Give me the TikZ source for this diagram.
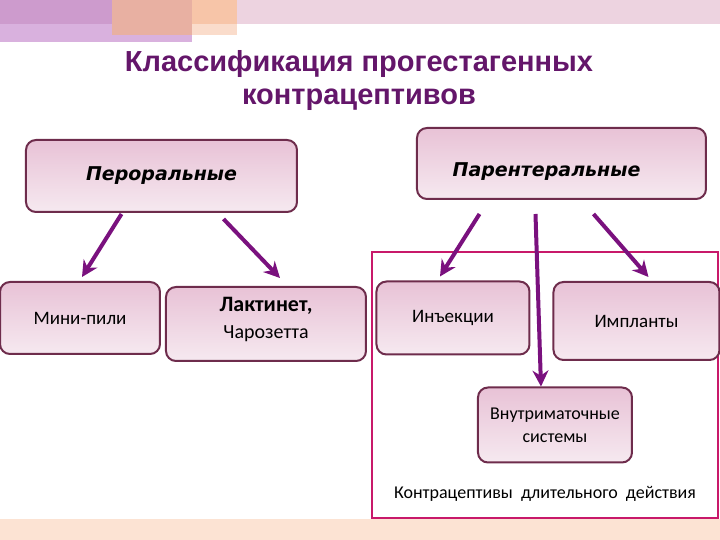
\documentclass[tikz,border=0pt]{standalone}
\usepackage{fontspec}
\setmainfont{Liberation Sans}
\newfontfamily\catfont{DejaVu Sans}
\newfontfamily\boxfont{Carlito}
\usepackage{tikz}
\usetikzlibrary{positioning,arrows.meta,calc}
\definecolor{titlecol}{HTML}{64166A}
\definecolor{boxline}{HTML}{6E2C4C}
\definecolor{boxtop}{HTML}{E8C2D6}
\definecolor{boxbot}{HTML}{F6E9F0}
\definecolor{arrcol}{HTML}{7A117E}
\definecolor{framecol}{HTML}{C8196A}
\definecolor{bandpink}{HTML}{EDD3E0}
\definecolor{bandpurple}{HTML}{CD9BCD}
\definecolor{bandlilac}{HTML}{D9B1DE}
\definecolor{bandsalmon}{HTML}{E8B0A2}
\definecolor{bandorange}{HTML}{F7C5A8}
\definecolor{bandpeach}{HTML}{FCE3D3}

\begin{document}
\begin{tikzpicture}[
  x=0.5pt, y=-0.5pt,
  catbox/.style={draw=boxline, line width=1pt, rounded corners=5pt,
    top color=boxtop, bottom color=boxbot, inner sep=0pt,
    font=\catfont\bfseries\itshape\fontsize{9.5}{11}\selectfont},
  cattext/.style={font=\catfont\bfseries\itshape\fontsize{9.5}{11}\selectfont},
  subbox/.style={draw=boxline, line width=1pt, rounded corners=5pt,
    top color=boxtop, bottom color=boxbot, inner sep=0pt, align=center,
    font=\boxfont\fontsize{9.5}{13}\selectfont},
  arr/.style={-{Stealth[length=8pt, width=8pt]}, line width=2pt, arrcol}
]
\useasboundingbox (0,0) rectangle (720,540);

% Decorative bands
\fill[bandpink] (0,0) rectangle (720,24);
\fill[bandlilac] (0,24) rectangle (192,42);
\fill[bandpurple] (0,0) rectangle (112,24);
\fill[bandsalmon] (112,0) rectangle (192,35);
\fill[bandorange] (192,0) rectangle (237,24);
\fill[bandorange!60] (192,24) rectangle (237,35);
\fill[bandpeach] (0,519) rectangle (720,540);

% Title
\node[font=\bfseries\fontsize{14.5}{16.5}\selectfont, text=titlecol, align=center]
  (title) at (359,81) {Классификация прогестагенных\\контрацептивов};

% Frame: long-acting methods
\draw[framecol, line width=1pt] (372,252) rectangle (718,518);
\node[font=\boxfont\fontsize{9}{10}\selectfont] (longlabel)
  at (545,494) {Контрацептивы\ \ длительного\ \ действия};

% Main categories
\node[catbox, minimum width=135.5pt, minimum height=36pt] (oral)
  at (161.5,176) {Пероральные};
\node[catbox, minimum width=144.5pt, minimum height=35.5pt,
  label={[cattext, xshift=-7.5pt, yshift=-4pt]center:Парентеральные}] (parent)
  at (561.5,163.5) {};

% Oral group
\node[subbox, minimum width=80pt, minimum height=36pt] (mini)
  at (80,318) {Мини-пили};
\node[subbox, minimum width=100pt, minimum height=37pt,
  label={[align=center, yshift=2.5pt, font=\boxfont\fontsize{10}{13.5}\selectfont]center:
    {\fontsize{11}{13.5}\selectfont\bfseries Лактинет,}\\Чарозетта}] (lakt)
  at (266,324) {};

% Parenteral group
\node[subbox, minimum width=76.5pt, minimum height=36.5pt] (inj)
  at (453,318) {Инъекции};
\node[subbox, minimum width=83pt, minimum height=39pt] (impl)
  at (636.5,321) {Импланты};
\node[subbox, minimum width=77pt, minimum height=37.5pt,
  font=\boxfont\fontsize{9}{11.5}\selectfont] (iud)
  at (555,425) {Внутриматочные\\системы};

% Arrows
\draw[arr] ($(oral.south)+(-40,1)$) -- ($(mini.north)+(2,-4)$);
\draw[arr] ($(oral.south)+(62,6)$) -- ($(lakt.north)+(14,-8)$);
\draw[arr] ($(parent.south)+(-82,14)$) -- ($(inj.north)+(-13,-4)$);
\draw[arr] ($(parent.south)+(-26,14)$) -- ($(iud.north)+(-14,0)$);
\draw[arr] ($(parent.south)+(32,14)$) -- ($(impl.north)+(12,-4)$);

\end{tikzpicture}
\end{document}
